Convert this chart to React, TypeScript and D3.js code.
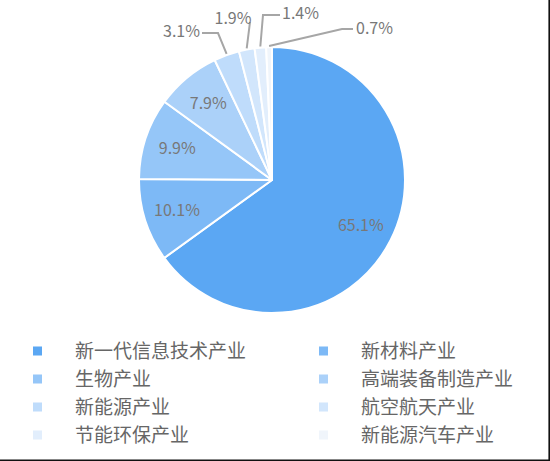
import React from 'react';
import * as d3 from 'd3';

// industry share, clockwise from 12 o'clock
const categories = [
  '新一代信息技术产业', '新材料产业', '生物产业', '高端装备制造产业',
  '新能源产业', '航空航天产业', '节能环保产业', '新能源汽车产业',
];
const shares = [65.1, 10.1, 9.9, 7.9, 3.1, 1.9, 1.4, 0.7];
const colors = [
  '#5ba7f3', '#7db9f6', '#95c6f8', '#abd1f9',
  '#bfdcfb', '#d2e6fc', '#e2eefc', '#f0f5fb',
];
// slices whose labels sit outside the pie, with elbow + label spot (relative to center)
const outsideLabels = [
  {idx: 4, elbow: [-54, -147], end: [-70, -147], anchor: 'end', tx: -72, ty: -149},
  {idx: 5, elbow: [-22, -158], end: [-22, -158], anchor: 'middle', tx: -39, ty: -162},
  {idx: 6, elbow: [-9, -165], end: [8, -165], anchor: 'start', tx: 10, ty: -167},
  {idx: 7, elbow: [70, -151], end: [81, -151], anchor: 'start', tx: 84, ty: -152},
];

const W = 550;
const H = 461;
const cx = 272;
const cy = 180;
const R = 133;

export default function App() {
  const pie = d3.pie<number>().sort(null).startAngle(0).endAngle(2 * Math.PI);
  const arcs = pie(shares);
  const arc = d3.arc<d3.PieArcDatum<number>>().innerRadius(0).outerRadius(R);
  const labelArc = d3.arc<d3.PieArcDatum<number>>()
      .innerRadius(R * 0.75).outerRadius(R * 0.75);
  const edgeArc = d3.arc<d3.PieArcDatum<number>>()
      .innerRadius(R).outerRadius(R);
  const outsideSet = new Set(outsideLabels.map((d) => d.idx));

  const legendY = d3.scalePoint<number>()
      .domain([0, 1, 2, 3]).range([351, 435]);
  const legendX = d3.scalePoint<number>()
      .domain([0, 1]).range([33, 319]);

  const pctFont = '"Noto Sans CJK SC", "Noto Sans", sans-serif';

  return (
    <div style={{position: 'fixed', left: 0, top: 0}}>
      <svg width={W} height={H} style={{display: 'block', background: '#fff'}}>
        <g transform={`translate(${cx},${cy})`}>
          {arcs.map((a, i) => (
            <path key={i} d={arc(a) || ''} fill={colors[i]}
              stroke="#fff" strokeWidth={2} strokeLinejoin="round" />
          ))}
          {arcs.map((a, i) => {
            if (outsideSet.has(i)) return null;
            const [x, y] = labelArc.centroid(a);
            return (
              <text key={i} x={x} y={y} textAnchor="middle" dy="0.35em"
                fontFamily={pctFont} fontSize={16} fill="#787878">
                {shares[i].toFixed(1)}%
              </text>
            );
          })}
          {outsideLabels.map((o) => {
            const [sx, sy] = edgeArc.centroid(arcs[o.idx]);
            const pts: [number, number][] = [[sx, sy - 1],
              [o.elbow[0], o.elbow[1]], [o.end[0], o.end[1]]];
            return (
              <g key={o.idx}>
                <path d={d3.line()(pts) || ''} fill="none"
                  stroke="#a6a6a6" strokeWidth={2} />
                <text x={o.tx} y={o.ty} dy="0.35em"
                  textAnchor={o.anchor as any}
                  fontFamily={pctFont} fontSize={16} fill="#787878">
                  {shares[o.idx].toFixed(1)}%
                </text>
              </g>
            );
          })}
        </g>
        {categories.map((c, i) => {
          const col = i % 2;
          const row = Math.floor(i / 2);
          const x = legendX(col) as number;
          const y = legendY(row) as number;
          return (
            <g key={c}>
              <rect x={x} y={y - 4.5} width={9} height={9} fill={colors[i]} />
              <text x={x + 42} y={y} dy="0.35em"
                fontFamily='"Noto Sans CJK SC", sans-serif'
                fontSize={19} fill="#666">
                {c}
              </text>
            </g>
          );
        })}
        <line x1={549.2} y1={0} x2={549.2} y2={H} stroke="#111" strokeWidth={1.6} />
        <line x1={0} y1={460.2} x2={W} y2={460.2} stroke="#111" strokeWidth={1.6} />
      </svg>
    </div>
  );
}
